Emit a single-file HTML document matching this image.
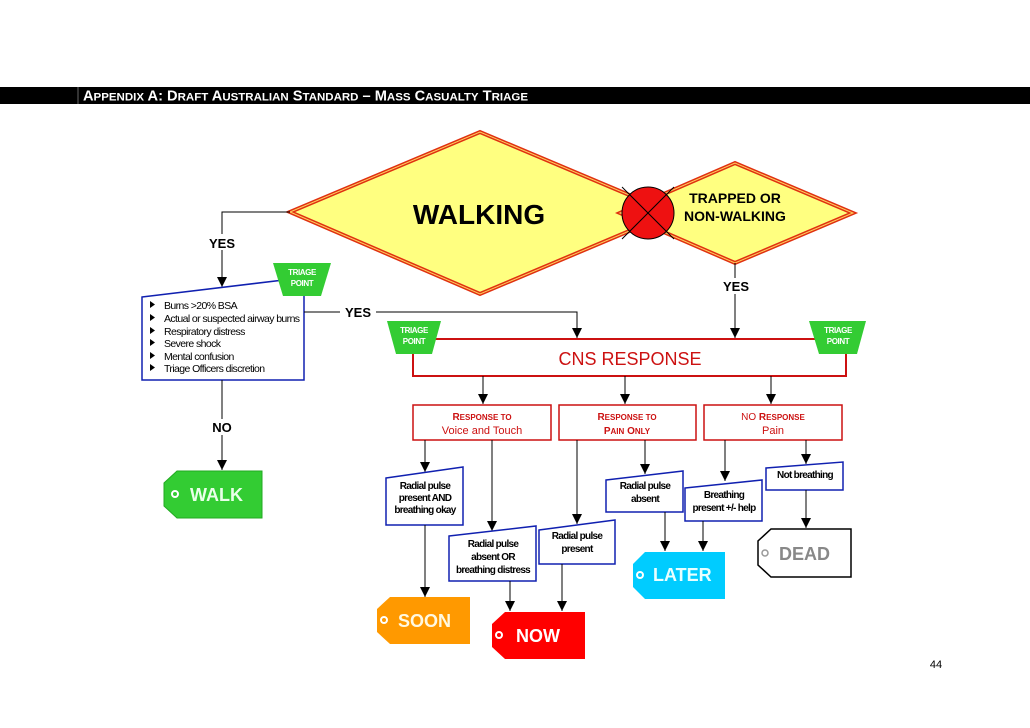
<!DOCTYPE html>
<html><head><meta charset="utf-8"><style>
html,body{margin:0;padding:0;background:#fff;width:1030px;height:728px;overflow:hidden}
svg text{font-family:"Liberation Sans",Arial,sans-serif}
</style></head><body>
<svg width="1030" height="728" viewBox="0 0 1030 728" xmlns="http://www.w3.org/2000/svg">
<defs>
<marker id="a" markerWidth="10" markerHeight="10" refX="10" refY="5" orient="auto" markerUnits="userSpaceOnUse">
<path d="M0,0 L10,5 L0,10 Z" fill="#000"/></marker>
</defs>
<rect x="0" y="87" width="1030" height="17" fill="#000"/>
<line x1="78" y1="87" x2="78" y2="104" stroke="#666" stroke-width="1"/>
<text x="83" y="100.5" fill="#fff" font-weight="bold" font-size="14.5" textLength="445" lengthAdjust="spacingAndGlyphs">A<tspan font-size="11.4">PPENDIX</tspan> A: D<tspan font-size="11.4">RAFT</tspan> A<tspan font-size="11.4">USTRALIAN</tspan> S<tspan font-size="11.4">TANDARD</tspan> – M<tspan font-size="11.4">ASS</tspan> C<tspan font-size="11.4">ASUALTY</tspan> T<tspan font-size="11.4">RIAGE</tspan></text>

<polygon points="290,212 480,132 672,213 480,294" fill="#ffff80" stroke="#e03010" stroke-width="4"/>
<polygon points="290,212 480,132 672,213 480,294" fill="none" stroke="#ffd060" stroke-width="1"/>
<text x="479" y="224" font-size="28" font-weight="bold" text-anchor="middle">WALKING</text>
<polygon points="620,213 735,163 853,213 735,263" fill="#ffff80" stroke="#e03010" stroke-width="4"/>
<polygon points="620,213 735,163 853,213 735,263" fill="none" stroke="#ffd060" stroke-width="1"/>
<text x="735" y="203" font-size="14" font-weight="bold" text-anchor="middle">TRAPPED OR</text>
<text x="735" y="221" font-size="14" font-weight="bold" text-anchor="middle">NON-WALKING</text>
<circle cx="648" cy="213" r="26" fill="#ee1111" stroke="#000" stroke-width="1"/>
<line x1="622" y1="187" x2="674" y2="239" stroke="#000"/>
<line x1="674" y1="187" x2="622" y2="239" stroke="#000"/>

<polyline points="290,212 222,212 222,287" fill="none" stroke="#000" marker-end="url(#a)"/>
<rect x="205" y="234" width="34" height="16" fill="#fff"/>
<text x="222" y="248" font-size="13" font-weight="bold" text-anchor="middle">YES</text>
<polygon points="142,297 292,279 304,279 304,380 142,380" fill="#fff" stroke="#1020b0" stroke-width="1.5"/>
<g font-size="10.5" letter-spacing="-0.6">
<text x="164" y="309">Burns &gt;20% BSA</text>
<text x="164" y="322">Actual or suspected airway burns</text>
<text x="164" y="335">Respiratory distress</text>
<text x="164" y="347">Severe shock</text>
<text x="164" y="360">Mental confusion</text>
<text x="164" y="372">Triage Officers discretion</text>
</g>
<g fill="#000">
<path d="M150,301 l5,3.5 l-5,3.5z"/><path d="M150,314 l5,3.5 l-5,3.5z"/><path d="M150,327 l5,3.5 l-5,3.5z"/>
<path d="M150,339 l5,3.5 l-5,3.5z"/><path d="M150,352 l5,3.5 l-5,3.5z"/><path d="M150,364 l5,3.5 l-5,3.5z"/>
</g>
<polygon points="273,263 331,263 321,296 283,296" fill="#33cc33"/>
<text x="302" y="275" font-size="8" font-weight="bold" fill="#fff" text-anchor="middle" letter-spacing="-0.4">TRIAGE</text>
<text x="302" y="286" font-size="8" font-weight="bold" fill="#fff" text-anchor="middle" letter-spacing="-0.4">POINT</text>

<polyline points="304,312 577,312 577,338" fill="none" stroke="#000" marker-end="url(#a)"/>
<rect x="340" y="304" width="36" height="16" fill="#fff"/>
<text x="358" y="317" font-size="13" font-weight="bold" text-anchor="middle">YES</text>

<line x1="222" y1="380" x2="222" y2="470" stroke="#000" marker-end="url(#a)"/>
<rect x="205" y="419" width="34" height="16" fill="#fff"/>
<text x="222" y="432" font-size="13" font-weight="bold" text-anchor="middle">NO</text>

<polygon points="177,471 262,471 262,518 177,518 164,506 164,483" fill="#33cc33" stroke="#22aa22"/>
<circle cx="175" cy="494" r="3" fill="none" stroke="#fff" stroke-width="2"/>
<text x="190" y="501" font-size="18" font-weight="bold" fill="#e8ffe8">WALK</text>

<line x1="735" y1="263" x2="735" y2="338" stroke="#000" marker-end="url(#a)"/>
<rect x="718" y="278" width="36" height="16" fill="#fff"/>
<text x="736" y="291" font-size="13" font-weight="bold" text-anchor="middle">YES</text>

<rect x="413" y="339" width="433" height="37" fill="#fff" stroke="#cc1111" stroke-width="2"/>
<text x="630" y="365" font-size="18" fill="#cc1111" text-anchor="middle">CNS RESPONSE</text>
<polygon points="387,321 441,321 432,354 396,354" fill="#33cc33"/>
<text x="414" y="333" font-size="8" font-weight="bold" fill="#fff" text-anchor="middle" letter-spacing="-0.4">TRIAGE</text>
<text x="414" y="344" font-size="8" font-weight="bold" fill="#fff" text-anchor="middle" letter-spacing="-0.4">POINT</text>
<polygon points="809,321 866,321 857,354 819,354" fill="#33cc33"/>
<text x="838" y="333" font-size="8" font-weight="bold" fill="#fff" text-anchor="middle" letter-spacing="-0.4">TRIAGE</text>
<text x="838" y="344" font-size="8" font-weight="bold" fill="#fff" text-anchor="middle" letter-spacing="-0.4">POINT</text>

<line x1="483" y1="376" x2="483" y2="404" stroke="#000" marker-end="url(#a)"/>
<line x1="625" y1="376" x2="625" y2="404" stroke="#000" marker-end="url(#a)"/>
<line x1="771" y1="376" x2="771" y2="404" stroke="#000" marker-end="url(#a)"/>

<rect x="413" y="405" width="138" height="35" fill="#fff" stroke="#cc1111" stroke-width="1.5"/>
<rect x="559" y="405" width="137" height="35" fill="#fff" stroke="#cc1111" stroke-width="1.5"/>
<rect x="704" y="405" width="138" height="35" fill="#fff" stroke="#cc1111" stroke-width="1.5"/>
<g fill="#cc1111" text-anchor="middle">
<text x="482" y="420" font-size="10" font-weight="bold">R<tspan font-size="8">ESPONSE TO</tspan></text>
<text x="482" y="434" font-size="11">Voice and Touch</text>
<text x="627" y="420" font-size="10" font-weight="bold">R<tspan font-size="8">ESPONSE TO</tspan></text>
<text x="627" y="434" font-size="10" font-weight="bold">P<tspan font-size="8">AIN</tspan> O<tspan font-size="8">NLY</tspan></text>
<text x="773" y="420" font-size="10">NO <tspan font-weight="bold">R<tspan font-size="8">ESPONSE</tspan></tspan></text>
<text x="773" y="434" font-size="11">Pain</text>
</g>

<g stroke="#000" fill="none">
<line x1="425" y1="440" x2="425" y2="472" marker-end="url(#a)"/>
<line x1="492" y1="440" x2="492" y2="531" marker-end="url(#a)"/>
<line x1="577" y1="440" x2="577" y2="524" marker-end="url(#a)"/>
<line x1="645" y1="440" x2="645" y2="474" marker-end="url(#a)"/>
<line x1="725" y1="440" x2="725" y2="481" marker-end="url(#a)"/>
<line x1="806" y1="440" x2="806" y2="464" marker-end="url(#a)"/>
</g>

<g fill="#fff" stroke="#1020b0" stroke-width="1.5">
<polygon points="386,478 463,467 463,525 386,525"/>
<polygon points="449,536 536,526 536,581 449,581"/>
<polygon points="539,530 615,520 615,564 539,564"/>
<polygon points="606,480 683,471 683,512 606,512"/>
<polygon points="685,488 762,480 762,521 685,521"/>
<polygon points="766,468 843,462 843,490 766,490"/>
</g>
<g font-size="10" font-weight="bold" text-anchor="middle" letter-spacing="-0.7">
<text x="425" y="489">Radial pulse</text>
<text x="425" y="501">present AND</text>
<text x="425" y="513">breathing okay</text>
<text x="493" y="547">Radial pulse</text>
<text x="493" y="560">absent OR</text>
<text x="493" y="573">breathing distress</text>
<text x="577" y="539">Radial pulse</text>
<text x="577" y="552">present</text>
<text x="645" y="489">Radial pulse</text>
<text x="645" y="502">absent</text>
<text x="724" y="498">Breathing</text>
<text x="724" y="511">present +/- help</text>
<text x="805" y="478">Not breathing</text>
</g>

<g stroke="#000" fill="none">
<line x1="425" y1="525" x2="425" y2="597" marker-end="url(#a)"/>
<line x1="510" y1="581" x2="510" y2="611" marker-end="url(#a)"/>
<line x1="562" y1="564" x2="562" y2="611" marker-end="url(#a)"/>
<line x1="665" y1="512" x2="665" y2="551" marker-end="url(#a)"/>
<line x1="703" y1="521" x2="703" y2="551" marker-end="url(#a)"/>
<line x1="806" y1="490" x2="806" y2="528" marker-end="url(#a)"/>
</g>

<polygon points="390,597 470,597 470,644 390,644 377,632 377,609" fill="#ff9900"/>
<circle cx="384" cy="620" r="3" fill="none" stroke="#fff" stroke-width="2"/>
<text x="398" y="627" font-size="18" font-weight="bold" fill="#fff8e0">SOON</text>
<polygon points="505,612 585,612 585,659 505,659 492,647 492,624" fill="#ff0000"/>
<circle cx="499" cy="635" r="3" fill="none" stroke="#fff" stroke-width="2"/>
<text x="516" y="642" font-size="18" font-weight="bold" fill="#fff">NOW</text>
<polygon points="645,552 725,552 725,599 645,599 633,587 633,564" fill="#00ccff"/>
<circle cx="640" cy="575" r="3" fill="none" stroke="#fff" stroke-width="2"/>
<text x="653" y="581" font-size="18" font-weight="bold" fill="#e8ffff">LATER</text>
<polygon points="771,529 851,529 851,577 771,577 758,565 758,541" fill="#fff" stroke="#000" stroke-width="1.5"/>
<circle cx="765" cy="553" r="3" fill="none" stroke="#999" stroke-width="1.5"/>
<text x="779" y="560" font-size="18" font-weight="bold" fill="#888">DEAD</text>

<text x="936" y="668" font-size="11" text-anchor="middle">44</text>
</svg>
</body></html>
